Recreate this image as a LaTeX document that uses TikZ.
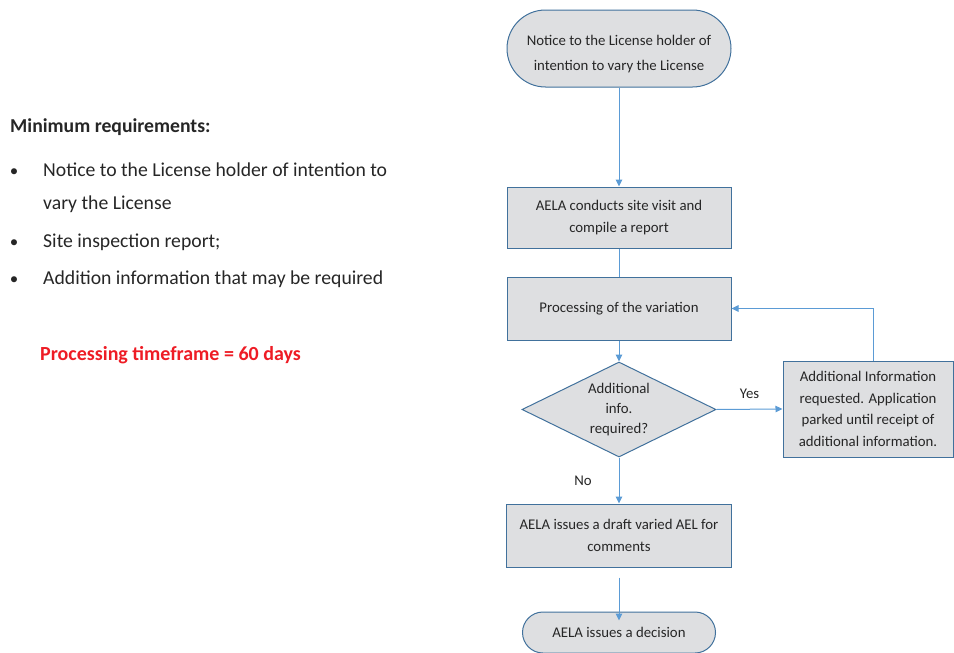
\documentclass[tikz,border=0pt]{standalone}
\usepackage{fontspec}
\setmainfont{Carlito}
\usetikzlibrary{shapes.geometric,arrows.meta}
\definecolor{boxfill}{HTML}{DEDFE1}
\definecolor{boxdraw}{HTML}{41719C}
\definecolor{arrowc}{HTML}{5B9BD5}
\definecolor{txt}{HTML}{262626}
\definecolor{redtxt}{HTML}{EE1C25}
\tikzset{
  flowfont/.style={font=\fontsize{14.8}{21.5}\selectfont, text=txt},
  procbox/.style={draw=boxdraw, fill=boxfill, line width=1pt, inner sep=0pt, align=center, flowfont},
  termbox/.style={procbox},
  decbox/.style={procbox, diamond, shape aspect=2},
  conn/.style={draw=arrowc, line width=1pt},
  arr/.style={conn, -{Triangle[length=7pt,width=6.5pt]}},
  lefttext/.style={anchor=base west, inner sep=0pt, text=txt, font=\fontsize{19.7}{22}\selectfont},
  bullettext/.style={anchor=base, inner sep=0pt, text=txt, font=\fontsize{17}{20}\selectfont},
}
\begin{document}
\begin{tikzpicture}[x=1pt,y=-1pt]
\useasboundingbox (0,0) rectangle (954,653);
% flowchart
\node[termbox, minimum width=224, minimum height=77, rounded corners=38.5] (term1) at (619,48.5) {};
\node[flowfont, align=center, inner sep=0pt, font=\fontsize{14.8}{25}\selectfont] (term1text) at (619,54) {Notice to the License holder of\\intention to vary the License};
\node[procbox, minimum width=224, minimum height=61] (box2) at (619,217.5) {AELA conducts site visit and\\compile a report};
\node[procbox, minimum width=224, minimum height=63] (box3) at (619,308.5) {Processing of the variation};
\node[decbox, minimum width=194, minimum height=95, font=\fontsize{14.8}{20}\selectfont] (dia) at (619,409.5) {Additional\\info.\\required?};
\node[procbox, minimum width=170, minimum height=96] (info) at (868,409) {Additional Information\\requested. Application\\parked until receipt of\\additional information.};
\node[procbox, minimum width=225, minimum height=63] (box4) at (619,535.5) {AELA issues a draft varied AEL for\\comments};
\node[termbox, minimum width=193, minimum height=41, rounded corners=20.5] (term2) at (619,632.5) {AELA issues a decision};
\draw[arr] (term1) -- (box2);
\draw[conn] (box2) -- (box3);
\draw[arr] (box3) -- (dia);
\draw[arr] (dia.east) -- (info.west) node[midway, above=10pt, flowfont, inner sep=0pt] (yes) {Yes};
\draw[arr] (dia) -- (box4) node[midway, xshift=-36pt, flowfont, inner sep=0pt] (no) {No};
\draw[arr] ([xshift=5pt]info.north) |- (box3.east);
\draw[arr, shorten <=10pt, shorten >=-9pt] (box4) -- (term2);
% left text
\node[lefttext, font=\fontsize{19.7}{22}\selectfont\bfseries] (head) at (10,132) {Minimum requirements:};
\node[bullettext] (b1) at (14,176) {•};
\node[lefttext] (l1) at (43,176) {Notice to the License holder of intention to};
\node[lefttext] (l2) at (43,209) {vary the License};
\node[bullettext] (b2) at (14,247) {•};
\node[lefttext] (l3) at (43,247) {Site inspection report;};
\node[bullettext] (b3) at (14,284) {•};
\node[lefttext] (l4) at (43,284) {Addition information that may be required};
\node[lefttext, text=redtxt, font=\fontsize{20}{22}\selectfont\bfseries] (red) at (40,360) {Processing timeframe = 60 days};
\end{tikzpicture}
\end{document}
